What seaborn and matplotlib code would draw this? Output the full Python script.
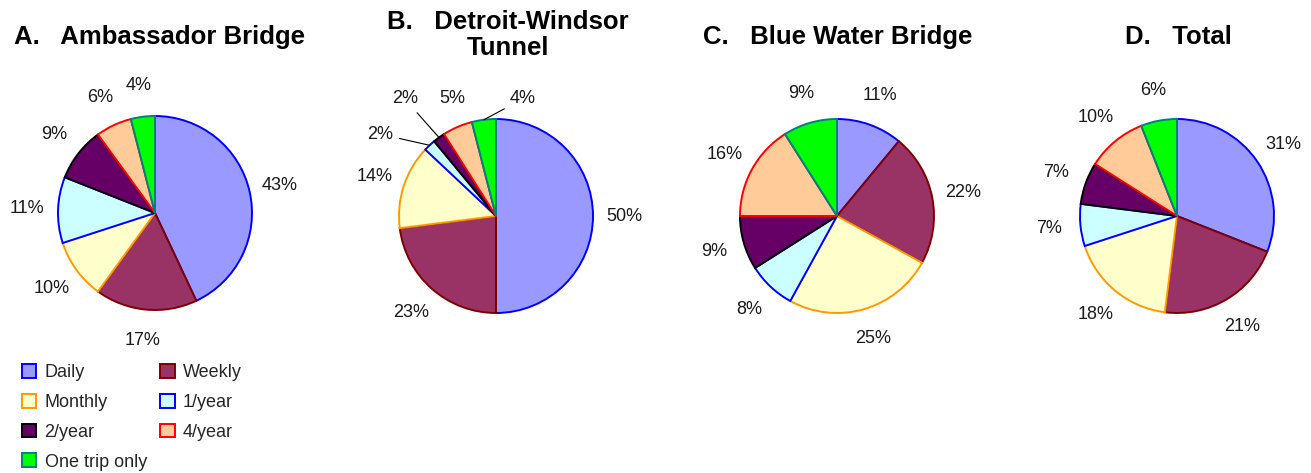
import numpy as np
import matplotlib
matplotlib.use('Agg')
import matplotlib.pyplot as plt
import seaborn as sns
from matplotlib.patches import Patch

# datos
categories = ['Daily', 'Weekly', 'Monthly', '1/year', '2/year', '4/year', 'One trip only']
ambassador = [43, 17, 10, 11, 9, 6, 4]
detroit_windsor = [50, 23, 14, 2, 2, 5, 4]
blue_water = [11, 22, 25, 8, 9, 16, 9]
total = [31, 21, 18, 7, 7, 10, 6]
titles = ['A.   Ambassador Bridge', 'B.   Detroit-Windsor\nTunnel',
          'C.   Blue Water Bridge', 'D.   Total']

fill_colors = ['#9999FF', '#993366', '#FFFFCC', '#CCFFFF', '#660066', '#FFCC99', '#00FF00']
edge_colors = ['#0000FF', '#800000', '#FF9900', '#0000FF', '#000000', '#FF0000', '#008080']

sns.set_theme(style='white')
plt.rcParams['font.family'] = ['Liberation Sans', 'DejaVu Sans']

W, H = 1311, 473
R = 97          # radio del pie en px
S = 340         # tamaño del eje en px
fig = plt.figure(figsize=(W / 100, H / 100), dpi=100)

centers = [(155, 213), (496, 216), (837, 216), (1177, 216)]
title_pos = [(159, 37), (508, 35), (838, 37), (1178, 37)]
label_r = 1.32
# posiciones especiales (angulo, radio, linea guia) para el pie B
overrides = {1: {3: (144.7, 1.46, True), 4: (127.9, 1.53, True),
                 5: (110.6, 1.29, False), 6: (77.0, 1.24, True)}}

for k, vals in enumerate([ambassador, detroit_windsor, blue_water, total]):
    cx, cy = centers[k]
    ax = fig.add_axes([(cx - S / 2) / W, (H - cy - S / 2) / H, S / W, S / H])
    wedges, _ = ax.pie(vals, colors=fill_colors, startangle=90, counterclock=False,
                       radius=1.0, wedgeprops=dict(linewidth=1.4))
    for w, ec in zip(wedges, edge_colors):
        w.set_edgecolor(ec)
    lim = S / 2 / R
    ax.set_xlim(-lim, lim)
    ax.set_ylim(-lim, lim)
    ax.set_aspect('equal')
    ax.axis('off')

    for i, w in enumerate(wedges):
        mid = (w.theta1 + w.theta2) / 2
        txt = f'{vals[i]}%'
        ov = overrides.get(k, {}).get(i)
        if ov is None:
            a = np.deg2rad(mid)
            ax.text(label_r * np.cos(a), label_r * np.sin(a), txt, ha='center', va='center',
                    fontsize=13, color='#1a1a1a')
        else:
            ang, r, line = ov
            a = np.deg2rad(ang)
            m = np.deg2rad(mid)
            ax.annotate(txt, xy=(1.0 * np.cos(m), 1.0 * np.sin(m)),
                        xytext=(r * np.cos(a), r * np.sin(a)), ha='center', va='center',
                        fontsize=13, color='#1a1a1a',
                        arrowprops=dict(arrowstyle='-', color='black', lw=0.8,
                                        shrinkA=2, shrinkB=0) if line else None)

    tx, ty = title_pos[k]
    fig.text(tx / W, 1 - ty / H, titles[k], ha='center', va='center', fontsize=18.5,
             fontweight='bold', linespacing=1.12, color='black')

# leyenda en dos columnas (orden por filas)
handles = [Patch(facecolor=f, edgecolor=e, linewidth=1.4, label=c)
           for c, f, e in zip(categories, fill_colors, edge_colors)]
order = [0, 2, 4, 6, 1, 3, 5]
fig.legend([handles[i] for i in order], [categories[i] for i in order],
           ncol=2, loc='upper left', bbox_to_anchor=(22 / W, 1 - 364 / H),
           frameon=False, fontsize=13, handlelength=0.8, handleheight=0.8,
           handletextpad=0.45, labelspacing=0.7, columnspacing=0.75,
           borderpad=0, borderaxespad=0)

fig.savefig('out.png', dpi=100)
